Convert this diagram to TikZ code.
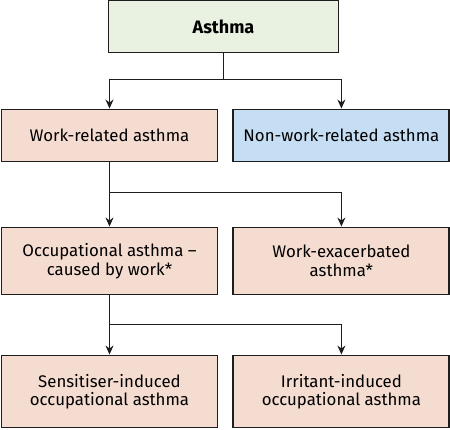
\documentclass[tikz,border=0pt]{standalone}
\usepackage{fontspec}
\setmainfont{Fira Sans}
\usetikzlibrary{shapes, arrows.meta, positioning}

\definecolor{topgreen}{HTML}{E9F2E0}
\definecolor{workpink}{HTML}{F4DCD1}
\definecolor{nonblue}{HTML}{C6DEF3}
\definecolor{edgegrey}{HTML}{1E1E1E}

\begin{document}
\begin{tikzpicture}[
  x=1pt, y=1pt,
  box/.style={rectangle, draw=edgegrey, line width=1.9pt, align=center,
     minimum width=216pt, font=\fontsize{16.8}{18.5}\selectfont, inner sep=2pt},
  pinkbox/.style={box, fill=workpink},
  link/.style={draw=edgegrey, line width=1.4pt, -{Stealth[length=9pt,width=8pt]}}]

  \useasboundingbox (0,0) rectangle (450,-429);

  \node[box, fill=topgreen, minimum width=230pt, minimum height=52pt,
        font=\fontsize{18}{20}\selectfont\bfseries] (asthma) at (223.5,-26.5) {Asthma};

  \node[pinkbox, minimum height=52pt] (work) at (109.5,-135.5) {Work-related asthma};
  \node[box, fill=nonblue, minimum height=52pt, right=14pt of work] (nonwork) {Non-work-related asthma};

  \node[pinkbox, minimum height=67pt] (occ) at (109.5,-261) {Occupational asthma --\\caused by work*};
  \node[pinkbox, minimum height=67pt, right=14pt of occ] (exac) {Work-exacerbated\\asthma*};

  \node[pinkbox, minimum height=72pt] (sens) at (109.5,-391.5) {Sensitiser-induced\\occupational asthma};
  \node[pinkbox, minimum height=72pt, right=14pt of sens] (irr) {Irritant-induced\\occupational asthma};

  % branches
  \coordinate (split1) at ([yshift=-26pt]asthma.south);
  \coordinate (split2) at ([yshift=-30pt]work.south);
  \coordinate (split3) at ([yshift=-29pt]occ.south);

  \draw[edgegrey, line width=1.4pt] (asthma.south) -- (split1);
  \draw[link] (split1) -| (work.north);
  \draw[link] (split1) -| (nonwork.north);

  \draw[edgegrey, line width=1.4pt] (work.south) -- (split2);
  \draw[link] (split2) -- (occ.north);
  \draw[link] (split2) -| (exac.north);

  \draw[edgegrey, line width=1.4pt] (occ.south) -- (split3);
  \draw[link] (split3) -- (sens.north);
  \draw[link] (split3) -| (irr.north);
\end{tikzpicture}
\end{document}
